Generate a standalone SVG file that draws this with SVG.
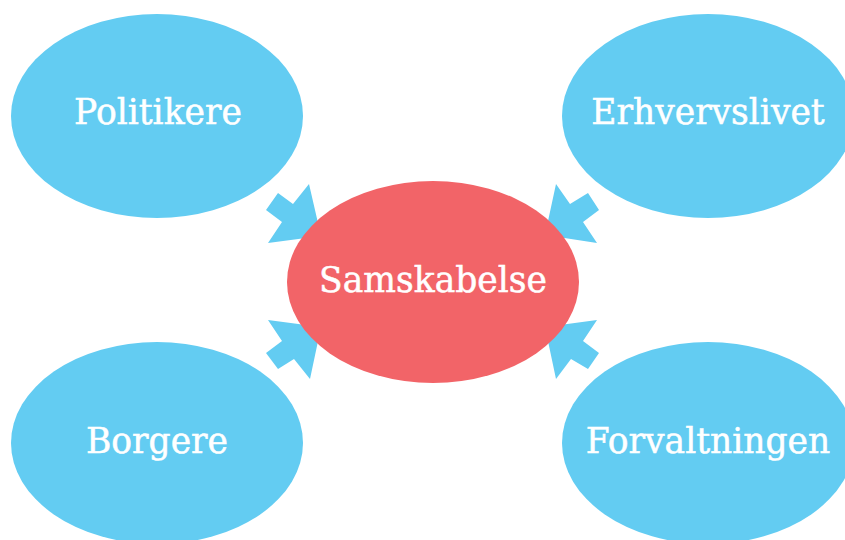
<svg xmlns="http://www.w3.org/2000/svg" width="845" height="540" viewBox="0 0 845 540">
<style>
.b{fill:#63CCF2}
.r{fill:#F26468}
.a{fill:#63CCF2}
text{font-family:"DejaVu Serif","Liberation Serif",serif;font-size:34.5px;fill:#fff;stroke:#fff;stroke-width:0.5;text-anchor:middle}
</style>
<rect width="845" height="540" fill="#fff"/>
<g id="connectors">
<polygon class="a" points="321,236 309,184 293,204 278,193 266,210 282,222 268,243"/>
<polygon class="a" points="545,235 556,184 570,204 588,193 599,210 583,222 597,243"/>
<polygon class="a" points="321,327 268,320 282,341 266,353 278,369 294,359 310,379"/>
<polygon class="a" points="545,327 597,320 583,341 599,353 588,369 571,359 556,379"/>
</g>
<g id="politikere"><ellipse class="b" cx="157" cy="116" rx="146" ry="102"/><text x="158" y="124">Politikere</text></g>
<g id="erhvervslivet"><ellipse class="b" cx="708" cy="116" rx="146" ry="102"/><text x="708" y="124">Erhvervslivet</text></g>
<g id="samskabelse"><ellipse class="r" cx="433" cy="282" rx="146" ry="101"/><text x="433" y="292">Samskabelse</text></g>
<g id="borgere"><ellipse class="b" cx="157" cy="443" rx="146" ry="101"/><text x="157" y="453">Borgere</text></g>
<g id="forvaltningen"><ellipse class="b" cx="708" cy="443" rx="146" ry="101"/><text x="708" y="453">Forvaltningen</text></g>
</svg>
